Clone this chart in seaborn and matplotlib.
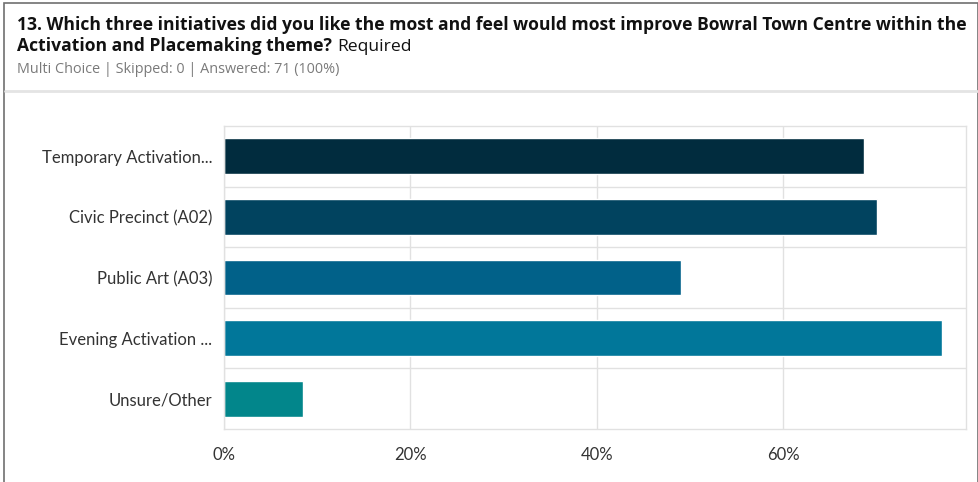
import matplotlib
matplotlib.use("Agg")
import matplotlib.pyplot as plt
from matplotlib.patches import Rectangle
from matplotlib.lines import Line2D
from matplotlib.ticker import FuncFormatter, FixedLocator
import seaborn as sns
import pandas as pd

# Survey responses (share of respondents choosing each initiative, %)
categories = [
    "Temporary Activation...",
    "Civic Precinct (A02)",
    "Public Art (A03)",
    "Evening Activation ...",
    "Unsure/Other",
]
percent = [68.7, 70.1, 49.0, 77.0, 8.5]
bar_colors = ["#012c3e", "#01435f", "#016189", "#01779a", "#02868b"]
x_ticks = [0, 20, 40, 60]

title_line1 = ("13. Which three initiatives did you like the most and feel would most improve "
               "Bowral Town Centre within the")
title_line2 = "Activation and Placemaking theme?"
title_tail = "Required"
subtitle = "Multi Choice | Skipped: 0 | Answered: 71 (100%)"

df = pd.DataFrame({"initiative": categories, "percent": percent})

sns.set_theme(style="white")
plt.rcParams["font.family"] = ["Open Sans", "DejaVu Sans"]

W, H, DPI = 979, 482, 100
fig = plt.figure(figsize=(W / DPI, H / DPI), dpi=DPI)

def fx(px):
    return px / W

def fy(py):
    return 1 - py / H

ax = fig.add_axes([fx(224), fy(429), fx(966) - fx(224), fy(126) - fy(429)])

sns.barplot(data=df, y="initiative", x="percent", hue="initiative",
            palette=bar_colors, order=categories, hue_order=categories,
            orient="h", width=0.59, legend=False, ax=ax, saturation=1)

ax.set_xlim(0, 79.6)
ax.set_ylim(4.5, -0.5)
ax.xaxis.set_major_locator(FixedLocator(x_ticks))
ax.xaxis.set_major_formatter(FuncFormatter(lambda v, _: f"{v:.0f}%"))
ax.yaxis.set_minor_locator(FixedLocator([0.5, 1.5, 2.5, 3.5]))
ax.set_xlabel("")
ax.set_ylabel("")

grid_c = "#e1e1e1"
ax.grid(True, axis="x", which="major", color=grid_c, linewidth=1.0)
ax.grid(True, axis="y", which="minor", color=grid_c, linewidth=1.0)
ax.grid(False, axis="y", which="major")
ax.set_axisbelow(True)
for s in ax.spines.values():
    s.set_color(grid_c)
    s.set_linewidth(1.0)

ax.tick_params(axis="y", which="both", length=0, pad=8.5, labelsize=12, labelcolor="#333333")
ax.tick_params(axis="x", which="both", length=0, pad=13, labelsize=12, labelcolor="#333333")
for lab in ax.get_yticklabels() + ax.get_xticklabels():
    lab.set_fontfamily(["Lato", "DejaVu Sans"])

# Card frame and header separator
fig.add_artist(Rectangle((fx(4), fy(490)), fx(978) - fx(4), fy(3) - fy(490),
                         transform=fig.transFigure, fill=False,
                         edgecolor="#707070", linewidth=1.2))
fig.add_artist(Line2D([fx(5), fx(977)], [fy(91), fy(91)], transform=fig.transFigure,
                      color="#e4e4e4", linewidth=2))

# Header text
title_size = 12.6
fig.text(fx(17), fy(30), title_line1, fontsize=title_size, fontweight="bold",
         color="#111111", va="baseline", ha="left")
t2 = fig.text(fx(17), fy(51), title_line2, fontsize=title_size, fontweight="bold",
              color="#111111", va="baseline", ha="left")
fig.canvas.draw()
w2 = t2.get_window_extent(renderer=fig.canvas.get_renderer()).width
fig.text(fx(17 + w2 + 5), fy(51), title_tail, fontsize=title_size, color="#111111",
         va="baseline", ha="left")
fig.text(fx(17), fy(73), subtitle, fontsize=10.4, color="#7a7a7a",
         va="baseline", ha="left")

fig.savefig("out.png", dpi=DPI, facecolor="white")
